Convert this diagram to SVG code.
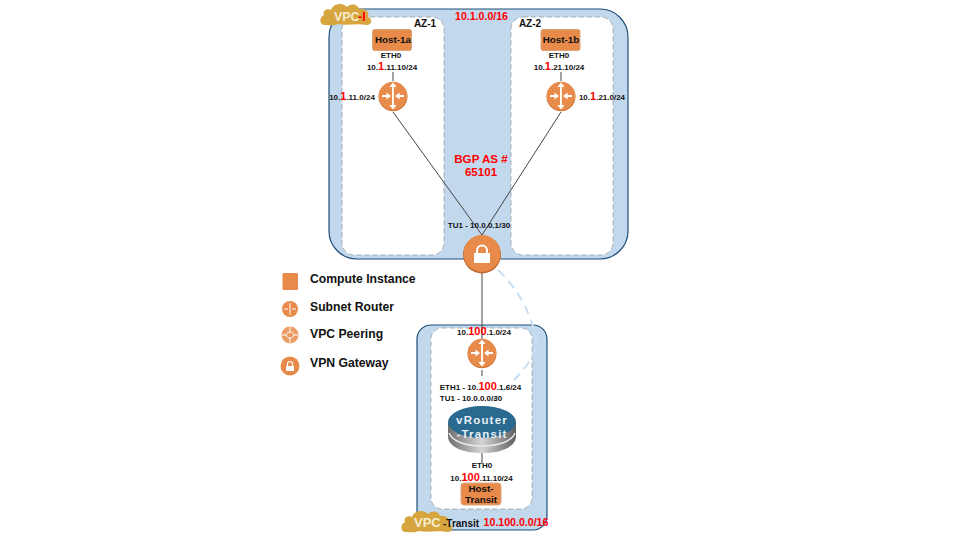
<svg xmlns="http://www.w3.org/2000/svg" width="960" height="540" viewBox="0 0 960 540">
<style>
text{font-family:"Liberation Sans",Arial,sans-serif;font-weight:bold;fill:#111;text-anchor:middle}
.s{font-size:8px}
.m{font-size:10px}
.h{font-size:9.8px}
.l{font-size:12.2px;text-anchor:start}
.r{fill:#f00;font-size:11px}
.big{font-size:10.6px;fill:#f00}
.bgp{font-size:11.6px;fill:#f00}
.vpc{fill:#c2d8ec;stroke:#1f4e79;stroke-width:1.2}
.az{fill:#fff;stroke:#9aa0a5;stroke-width:.8;stroke-dasharray:5 3}
.host{fill:#e88b4a;stroke:#d9a57e;stroke-width:1}
.o{fill:#e88b4a}
.a{stroke:#fff;stroke-width:1.8;fill:none}
.c{stroke:#444;stroke-width:1;fill:none}
.d{stroke:#c9def2;stroke-width:2;stroke-dasharray:9 6;fill:none}
.cloud{fill:#d6a53e}
.w{fill:#f5ecd0;font-size:12.4px;text-anchor:start}
.vr{font-size:11.5px;letter-spacing:1.2px;fill:#e8f0f5}
</style>
<defs>
<g id="router">
<circle r="14.5" fill="#c9763a" cy=".8"/>
<circle r="14.2" class="o"/>
<path class="a" d="M0-10V10M-11 0H-5M11 0H5"/>
<path fill="#fff" d="M0-13.5l-3.6 4.5h7.2zM0 13.5l-3.6-4.5h7.2zM-2 0l-4.5-3.6v7.2zM2 0l4.5-3.6v7.2z"/>
</g>
<g id="lock">
<rect x="-8" y="-1" width="16" height="10" fill="#fff"/>
<path d="M-5-1V-3.5a5 5 0 0 1 10 0V-1" fill="none" stroke="#fff" stroke-width="2"/>
</g>
<path id="cl" d="M-21 11C-27 11-27 3-22 1C-24-3-19-6-15-4C-13-11-3-12 1-7C5-11 12-10 13-5C18-6 24-3 22 3C27 4 26 11 21 11C10 9 0 12-8 10C-12 12-17 11-21 11Z"/>
<linearGradient id="metal" x1="0" x2="1" y1="0" y2="0">
<stop offset="0" stop-color="#6e6e6e"/><stop offset=".5" stop-color="#d4d4d4"/><stop offset="1" stop-color="#5e5e5e"/>
</linearGradient>
</defs>

<g id="vpc-i">
<rect class="vpc" x="329" y="9" width="299" height="250" rx="28"/>
<text class="big" x="481.5" y="20">10.1.0.0/16</text>
</g>
<g id="az-1">
<rect class="az" x="342" y="17" width="102" height="238" rx="12"/>
<text class="m" x="425" y="27">AZ-1</text>
</g>
<g id="az-2">
<rect class="az" x="511" y="17" width="102" height="238" rx="12"/>
<text class="m" x="530" y="27">AZ-2</text>
</g>
<g id="vpc-transit">
<rect class="vpc" x="417" y="325" width="130" height="205" rx="14"/>
</g>
<g id="az-transit">
<rect class="az" x="431" y="328" width="101" height="181" rx="11"/>
</g>

<g id="connectors">
<path class="c" d="M393 72V81M561 72V81"/>
<path class="c" d="M393 112L482 235M561 112L482 235"/>
<path class="c" d="M482 273V340M482 370V376M482 452V463"/>
<path class="d" d="M498 270C520 290 534 320 537 345C534 362 510 385 490 403"/>
</g>

<g id="host-1a">
<rect class="host" x="372.500" y="29.500" width="39" height="21" rx="2"/>
<text class="h" x="393" y="43">Host-1a</text>
<text class="s" x="391" y="58">ETH0</text>
<text class="s" x="392" y="70">10.<tspan class="r">1</tspan>.11.10/24</text>
</g>
<g id="host-1b">
<rect class="host" x="541" y="29.500" width="39" height="21" rx="2"/>
<text class="h" x="561" y="43">Host-1b</text>
<text class="s" x="559" y="58">ETH0</text>
<text class="s" x="559" y="70">10.<tspan class="r">1</tspan>.21.10/24</text>
</g>
<g id="router-1a">
<use href="#router" x="393" y="96"/>
<text class="s" x="352" y="100">10.<tspan class="r">1</tspan>.11.0/24</text>
</g>
<g id="router-1b">
<use href="#router" x="561" y="96"/>
<text class="s" x="602" y="100">10.<tspan class="r">1</tspan>.21.0/24</text>
</g>
<g id="bgp">
<text class="bgp" x="481" y="163">BGP AS #</text>
<text class="bgp" x="481" y="176">65101</text>
</g>
<g id="vpn-gateway">
<text class="s" x="479" y="228">TU1 - 10.0.0.1/30</text>
<circle cx="482" cy="254.500" r="19" fill="#b9682f"/>
<circle cx="482" cy="253.500" r="18.500" class="o"/>
<use href="#lock" x="482" y="254"/>
</g>
<g id="cloud-vpc-i">
<use href="#cl" x="346" y="14" class="cloud"/>
<text class="w" x="334" y="20.500">VPC</text><text class="w" x="358" y="20.500" style="fill:#f00">-I</text>
</g>

<g id="legend-compute">
<rect class="o" x="282.500" y="273" width="15.500" height="17" rx="1.500"/>
<text class="l" x="310" y="283">Compute Instance</text>
</g>
<g id="legend-router">
<circle class="o" cx="290" cy="309" r="8"/>
<path class="a" style="stroke-width:1" d="M290 303V315M284 309H288M296 309H292"/>
<text class="l" x="310" y="311">Subnet Router</text>
</g>
<g id="legend-peering">
<circle class="o" cx="290" cy="335" r="8.500" fill-opacity=".85"/>
<path class="a" style="stroke-width:1" d="M290 327V332M290 338V343M282 335H286M294 335H298M286 335C287 331 293 331 294 335C293 339 287 339 286 335Z"/>
<text class="l" x="310" y="338">VPC Peering</text>
</g>
<g id="legend-vpn">
<circle class="o" cx="290" cy="366" r="9.500"/>
<rect x="286" y="366" width="8" height="5" fill="#fff"/>
<path d="M287.500 366V364a2.500 2.500 0 0 1 5 0V366" fill="none" stroke="#fff" stroke-width="1.200"/>
<text class="l" x="310" y="367">VPN Gateway</text>
</g>

<g id="router-transit">
<text class="s" x="484" y="335">10.<tspan class="r">100</tspan>.1.0/24</text>
<use href="#router" x="482" y="353"/>
</g>
<g id="vrouter-transit">
<text class="s" x="480.500" y="390">ETH1 - 10.<tspan class="r">100</tspan>.1.6/24</text>
<text class="s" x="471" y="401">TU1 - 10.0.0.0/30</text>
<path fill="url(#metal)" d="M448 423V436C448 447 463 453 482 453S516 447 516 436V423Z"/>
<path fill="none" stroke="#e8e8e8" stroke-width="1.500" d="M449 433C452 441 465 446 482 446S512 441 515 433"/>
<ellipse cx="482" cy="422" rx="34" ry="16" fill="#2a6a90"/>
<text class="vr" x="482" y="424">vRouter</text>
<text class="vr" x="482" y="437.500">-Transit</text>
</g>
<g id="host-transit">
<text class="s" x="482" y="468">ETH0</text>
<text class="s" x="481.500" y="481">10.<tspan class="r">100</tspan>.11.10/24</text>
<rect class="host" x="461" y="483" width="40" height="22" rx="3"/>
<text class="h" x="481" y="492">Host-</text>
<text class="h" x="481" y="503">Transit</text>
</g>
<g id="cloud-vpc-transit">
<use href="#cl" x="427" y="521" class="cloud"/>
<text class="w" x="414" y="527" style="font-size:13px">VPC</text>
<text x="443" y="527" style="font-size:10px;text-anchor:start">-Transit</text>
<text class="big" x="516" y="526">10.100.0.0/16</text>
</g>
</svg>
